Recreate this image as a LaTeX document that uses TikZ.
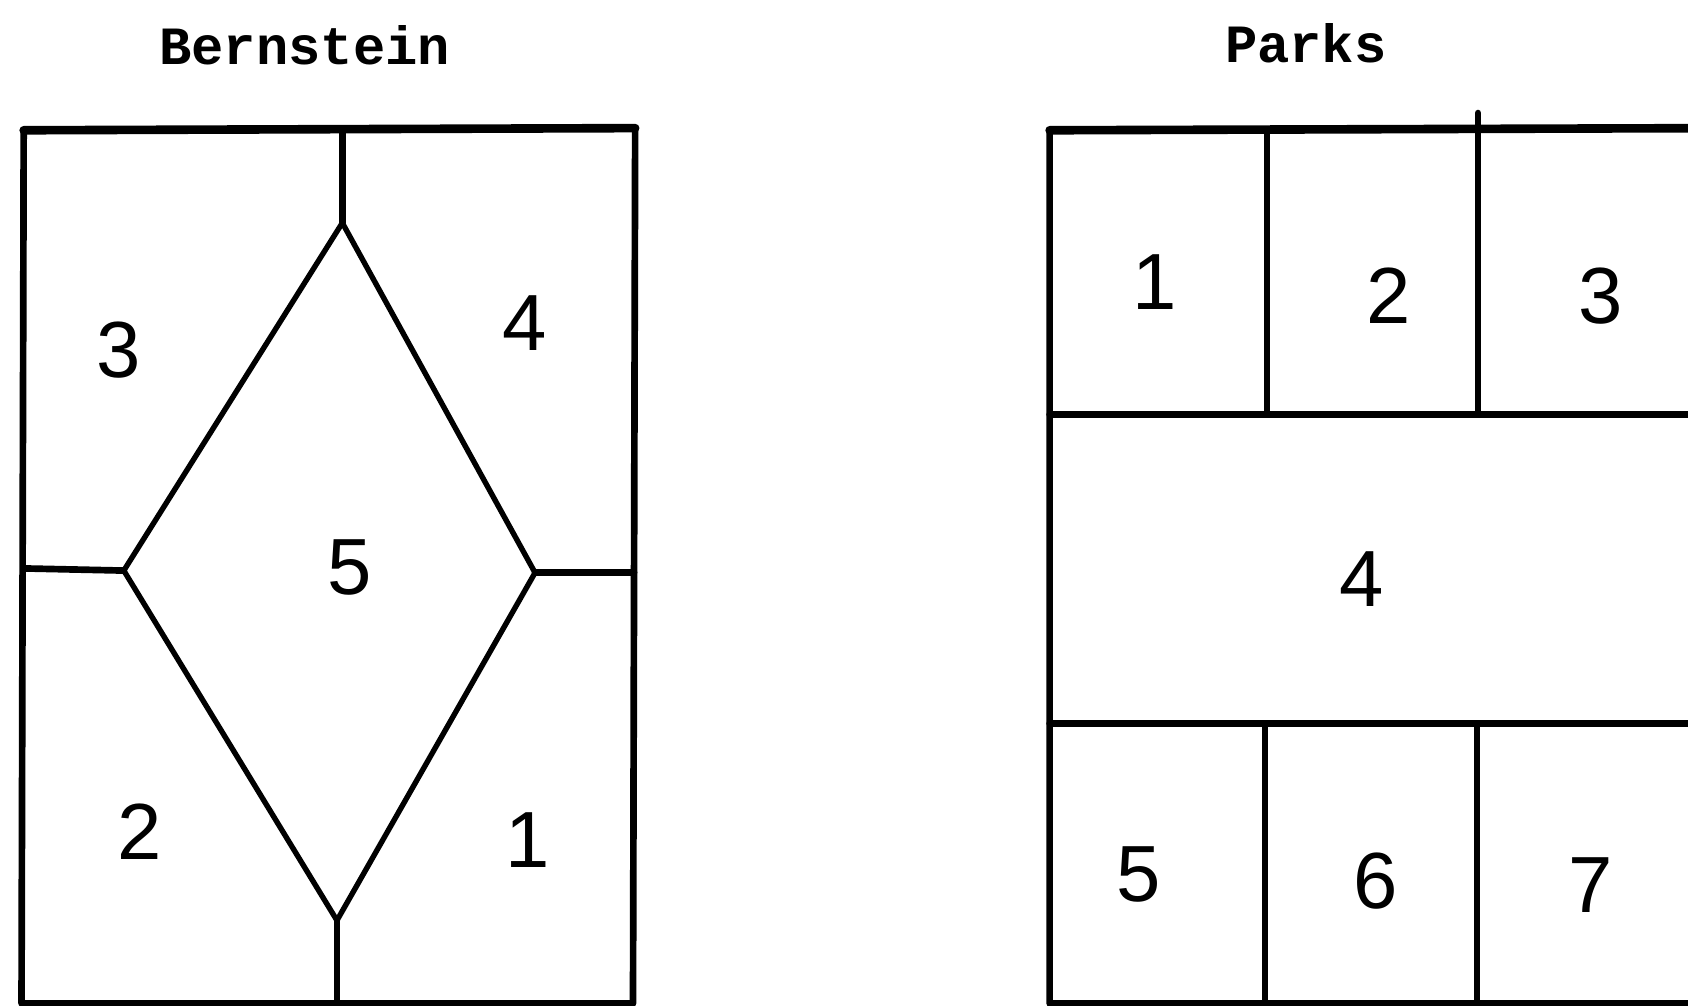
\documentclass[tikz,border=0pt]{standalone}
\usepackage{fontspec}
\setmainfont{Liberation Sans}
\newfontfamily\titlefont{Liberation Mono}
\begin{document}
\begin{tikzpicture}[x=0.5pt,y=-0.5pt,line join=round,line cap=round,
  wall/.style={line width=3.1pt},
  thin wall/.style={line width=2.5pt},
  ttl/.style={font=\titlefont\bfseries\fontsize{25}{25}\selectfont},
  num/.style={font=\fontsize{37}{37}\selectfont}]
\useasboundingbox (0,0) rectangle (1568,934);
\clip (0,0) rectangle (1568,934);
% ---------- Bernstein ----------
\node[ttl] (tb) at (283,42) {Bernstein};
\coordinate (bTL) at (22,121);
\coordinate (bTR) at (590,119);
\coordinate (bBR) at (588,932);
\coordinate (bBL) at (20,932);
\draw[wall] (bTL) -- (bTR) -- (bBR) -- (bBL) -- cycle;
\draw[line width=4pt] (bTL) -- (bTR);
\coordinate (mT) at (318,120);
\coordinate (dT) at (318,207);
\coordinate (dL) at (115,530);
\coordinate (dR) at (497,532);
\coordinate (dB) at (313,855);
\coordinate (mB) at (313,932);
\coordinate (eL) at (22,528);
\coordinate (eR) at (589,532);
\draw[wall] (mT) -- (dT);
\draw[thin wall] (dT) -- (dR) -- (dB) -- (dL) -- cycle;
\draw[wall] (eL) -- (dL);
\draw[wall] (dR) -- (eR);
\draw[wall] (dB) -- (mB);
\node[num] (b3) at (110,325) {3};
\node[num] (b4) at (487,300) {4};
\node[num] (b5) at (325,527) {5};
\node[num] (b2) at (130,773) {2};
\node[num] (b1) at (490,780) {1};
% ---------- Parks ----------
\node[ttl] (tp) at (1213,40) {Parks};
\coordinate (pTL) at (975,121);
\coordinate (pTR) at (1590,119);
\coordinate (pBL) at (975,932);
\coordinate (pBR) at (1590,932);
\draw[wall] (pTR) -- (pTL) -- (pBL) -- (pBR);
\draw[line width=4pt] (pTL) -- (pTR);
\coordinate (h1L) at (975,385);
\coordinate (h1R) at (1590,385);
\coordinate (h2L) at (975,672);
\coordinate (h2R) at (1590,672);
\draw[wall] (h1L) -- (h1R);
\draw[wall] (h2L) -- (h2R);
\coordinate (v1t) at (1177,121);
\coordinate (v1b) at (1177,385);
\coordinate (v2t) at (1373,105);
\coordinate (v2b) at (1373,385);
\coordinate (v3t) at (1175,672);
\coordinate (v3b) at (1175,932);
\coordinate (v4t) at (1372,672);
\coordinate (v4b) at (1372,932);
\draw[wall] (v1t) -- (v1b);
\draw[wall] (v2t) -- (v2b);
\draw[wall] (v3t) -- (v3b);
\draw[wall] (v4t) -- (v4b);
\node[num] (p1) at (1073,262) {1};
\node[num] (p2) at (1290,275) {2};
\node[num] (p3) at (1487,275) {3};
\node[num] (p4) at (1265,538) {4};
\node[num] (p5) at (1058,812) {5};
\node[num] (p6) at (1278,818) {6};
\node[num] (p7) at (1478,822) {7};
\end{tikzpicture}
\end{document}
